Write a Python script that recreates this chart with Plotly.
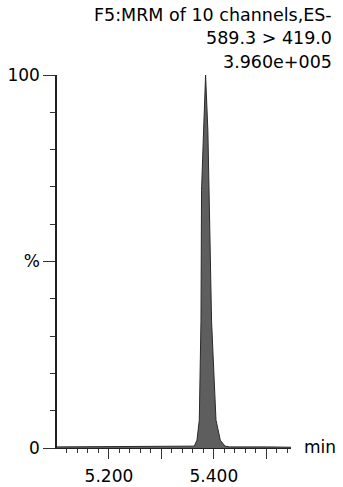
import plotly.graph_objects as go

# Retention time (min) and relative intensity (%)
time_min = [5.100, 5.200, 5.300, 5.355, 5.3627, 5.3678, 5.3722, 5.3754, 5.3765,
            5.3804, 5.3842, 5.3886, 5.3912, 5.3956, 5.4040, 5.4122, 5.4212,
            5.430, 5.500, 5.547]
intensity_pct = [0.3, 0.3, 0.4, 0.4, 0.5, 2.1, 7.5, 34, 69,
                 85, 100, 85, 69, 34, 7.5, 2.1, 0.5,
                 0.3, 0.3, 0.2]

header_lines = ["F5:MRM of 10 channels,ES-", "589.3 > 419.0", "3.960e+005"]
x_tick_vals = [5.2, 5.3, 5.4, 5.5]
x_tick_text = ["5.200", "", "5.400", ""]
y_tick_vals = [0, 50, 100]
y_tick_text = ["0", "%", "100"]

FONT = "DejaVu Sans, Liberation Sans, Arial, sans-serif"
FS = 17
FS_HEAD = 17.5

fig = go.Figure()
fig.add_trace(go.Scatter(
    x=time_min, y=intensity_pct, mode="lines",
    line=dict(color="#2a2a2a", width=1),
    fill="tozeroy", fillcolor="#5e5e5e",
    hoverinfo="skip", showlegend=False,
))

W, H = 343, 487
L, R, T, B = 57, 52, 75, 39

fig.update_layout(
    width=W, height=H,
    margin=dict(l=L, r=R, t=T, b=B, pad=0, autoexpand=False),
    paper_bgcolor="white", plot_bgcolor="white",
    font=dict(family=FONT, size=FS, color="black"),
    showlegend=False,
    xaxis=dict(
        range=[5.101, 5.547], showgrid=False, zeroline=False, automargin=False,
        showline=True, linecolor="#222", linewidth=1.2,
        tickmode="array", tickvals=x_tick_vals, ticktext=x_tick_text,
        ticks="outside", ticklen=10, tickwidth=1, tickcolor="#333",
        ticklabelstandoff=2,
        minor=dict(tickmode="linear", tick0=5.1, dtick=0.02, ticks="outside",
                   ticklen=4, tickwidth=1, tickcolor="#333", showgrid=False),
        tickfont=dict(size=FS, family=FONT, color="black"),
        fixedrange=True,
    ),
    yaxis=dict(
        range=[0, 100], showgrid=False, zeroline=False, automargin=False,
        showline=True, linecolor="#222", linewidth=1.5,
        tickmode="array", tickvals=y_tick_vals, ticktext=y_tick_text,
        ticks="outside", ticklen=12, tickwidth=1, tickcolor="#333",
        minor=dict(tickmode="linear", tick0=0, dtick=10, ticks="outside",
                   ticklen=5, tickwidth=1, tickcolor="#333", showgrid=False),
        tickfont=dict(size=FS, family=FONT, color="black"),
        fixedrange=True,
    ),
)

pw = W - L - R
ph = H - T - B
def px_x(x):
    return (x - L) / pw
def px_y(y):
    return (H - B - y) / ph

for line, yc in zip(header_lines, [15, 38, 61.5]):
    fig.add_annotation(text=line, x=px_x(334), y=px_y(yc), xref="paper", yref="paper",
                       xanchor="right", yanchor="middle", showarrow=False,
                       font=dict(size=FS_HEAD, family=FONT, color="black"))

fig.add_annotation(text="min", x=px_x(302), y=px_y(447), xref="paper", yref="paper",
                   xanchor="left", yanchor="middle", showarrow=False,
                   font=dict(size=FS, family=FONT, color="black"))

fig.write_html("out.html", config={"displayModeBar": False},
               post_script="document.body.style.margin='0';")
